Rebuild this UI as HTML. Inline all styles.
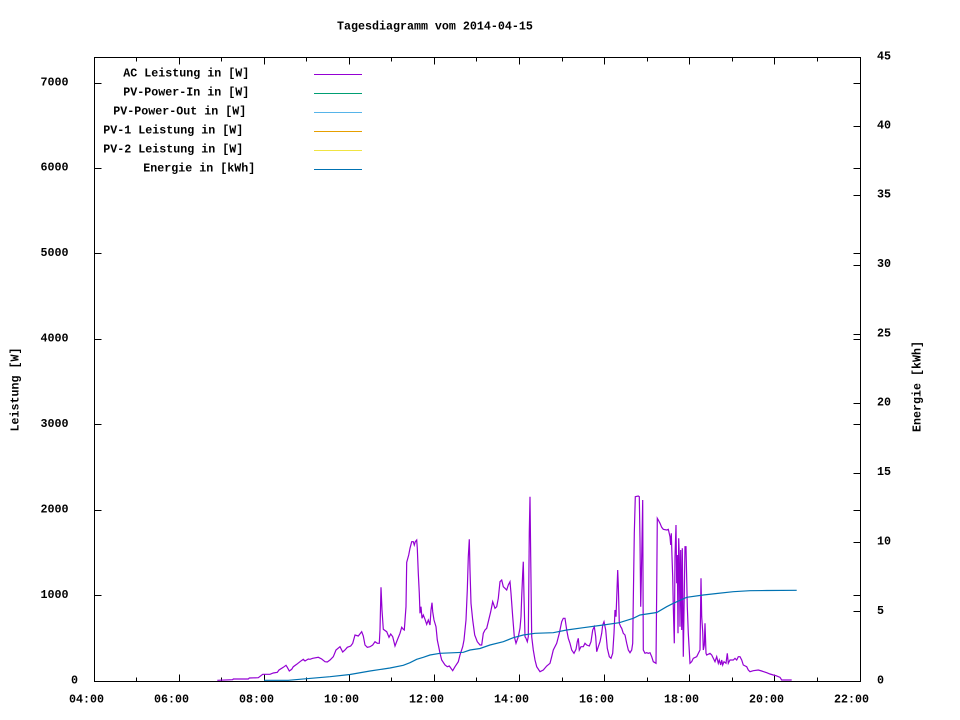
<!DOCTYPE html>
<html>
<head>
<meta charset="utf-8">
<style>
  html, body { margin:0; padding:0; background:#fff; }
  svg { display:block; }
  text { font-family: "Liberation Mono", "DejaVu Sans Mono", monospace; font-weight: bold; font-size: 11.67px; fill:#000; }
</style>
</head>
<body>
<svg width="960" height="720" viewBox="0 0 960 720" xmlns="http://www.w3.org/2000/svg">
  <rect x="0" y="0" width="960" height="720" fill="#fff"/>

  <!-- Title -->
  <text x="337" y="29.5">Tagesdiagramm vom 2014-04-15</text>

  <!-- Ticks -->
  <g stroke="#000" stroke-width="1" shape-rendering="crispEdges" fill="none">
    <!-- left y ticks + mirrored on right -->
    <path d="M94.5 681.5h7 M94.5 595.5h7 M94.5 510.5h7 M94.5 424.5h7 M94.5 339.5h7 M94.5 253.5h7 M94.5 168.5h7 M94.5 83.5h7"/>
    <path d="M860.5 595.5h-7 M860.5 510.5h-7 M860.5 424.5h-7 M860.5 339.5h-7 M860.5 253.5h-7 M860.5 168.5h-7 M860.5 83.5h-7"/>
    <!-- y2 ticks -->
    <path d="M860.5 611.5h-7 M860.5 542.5h-7 M860.5 473.5h-7 M860.5 403.5h-7 M860.5 334.5h-7 M860.5 265.5h-7 M860.5 195.5h-7 M860.5 126.5h-7"/>
    <!-- x major ticks bottom/top -->
    <path d="M179.5 681.5v-7 M264.5 681.5v-7 M349.5 681.5v-7 M434.5 681.5v-7 M519.5 681.5v-7 M604.5 681.5v-7 M689.5 681.5v-7 M774.5 681.5v-7"/>
    <path d="M179.5 57.5v7 M264.5 57.5v7 M349.5 57.5v7 M434.5 57.5v7 M519.5 57.5v7 M604.5 57.5v7 M689.5 57.5v7 M774.5 57.5v7"/>
    <!-- x minor ticks -->
    <path d="M136.5 681.5v-4 M221.5 681.5v-4 M306.5 681.5v-4 M391.5 681.5v-4 M476.5 681.5v-4 M562.5 681.5v-4 M647.5 681.5v-4 M732.5 681.5v-4 M817.5 681.5v-4"/>
    <path d="M136.5 57.5v4 M221.5 57.5v4 M306.5 57.5v4 M391.5 57.5v4 M476.5 57.5v4 M562.5 57.5v4 M647.5 57.5v4 M732.5 57.5v4 M817.5 57.5v4"/>
    <!-- border -->
    <rect x="94.5" y="57.5" width="766" height="624"/>
  </g>

  <!-- Left tick labels -->
  <text x="71" y="683.5">0</text>
  <text x="40.5" y="598">1000</text>
  <text x="40.5" y="512.5">2000</text>
  <text x="40.5" y="427">3000</text>
  <text x="40.5" y="341.5">4000</text>
  <text x="40.5" y="256">5000</text>
  <text x="40.5" y="170.5">6000</text>
  <text x="40.5" y="85.5">7000</text>

  <!-- Right tick labels -->
  <text x="877" y="683.5">0</text>
  <text x="877" y="614">5</text>
  <text x="877" y="544.5">10</text>
  <text x="877" y="475">15</text>
  <text x="877" y="405.5">20</text>
  <text x="877" y="336.5">25</text>
  <text x="877" y="267">30</text>
  <text x="877" y="197.5">35</text>
  <text x="877" y="128.5">40</text>
  <text x="877" y="59.5">45</text>

  <!-- X tick labels -->
  <text x="69" y="702.5">04:00</text>
  <text x="154" y="702.5">06:00</text>
  <text x="239" y="702.5">08:00</text>
  <text x="324" y="702.5">10:00</text>
  <text x="409" y="702.5">12:00</text>
  <text x="494" y="702.5">14:00</text>
  <text x="579" y="702.5">16:00</text>
  <text x="664" y="702.5">18:00</text>
  <text x="749" y="702.5">20:00</text>
  <text x="834" y="702.5">22:00</text>

  <!-- Axis labels -->
  <text transform="translate(18.5,431.5) rotate(-90)">Leistung [W]</text>
  <text transform="translate(920.5,432) rotate(-90)">Energie [kWh]</text>

  <!-- Legend -->
  <text x="123.3" y="76.5">AC Leistung in [W]</text>
  <text x="123.3" y="95.5">PV-Power-In in [W]</text>
  <text x="113.3" y="114.5">PV-Power-Out in [W]</text>
  <text x="103.3" y="133.5">PV-1 Leistung in [W]</text>
  <text x="103.3" y="152.5">PV-2 Leistung in [W]</text>
  <text x="143.3" y="171.5">Energie in [kWh]</text>
  <g stroke-width="1" shape-rendering="crispEdges">
    <line x1="314" y1="74.5" x2="362" y2="74.5" stroke="#9400d3"/>
    <line x1="314" y1="93.5" x2="362" y2="93.5" stroke="#009e73"/>
    <line x1="314" y1="112.5" x2="362" y2="112.5" stroke="#56b4e9"/>
    <line x1="314" y1="131.5" x2="362" y2="131.5" stroke="#e69f00"/>
    <line x1="314" y1="150.5" x2="362" y2="150.5" stroke="#f0e442"/>
    <line x1="314" y1="169.5" x2="362" y2="169.5" stroke="#0072b2"/>
  </g>

  <!-- AC Leistung -->
  <polyline fill="none" stroke="#9400d3" stroke-width="1.2" stroke-linejoin="miter" points="217.3,680.3 232.7,679.7 233.3,679 248.3,679 249.3,678 258.3,677.7 262.7,674.3 270,674.3 273.3,673 277.3,672.3 279,670 283.3,667.3 286,665.3 287.3,667.3 289.3,671 291.7,669.3 293.3,666.7 296.7,664.3 300,661.7 303.3,659.3 305,661 308.3,659 310,659.3 312.7,658.3 318.3,657.3 321.7,659 325,661.7 327.3,662 330,660 333.3,656.7 336,650 340,646.7 342.7,652 345,650 347.3,647.3 350.7,646 352.7,643.3 355,635 358.3,636 361.7,631.7 363.3,636 365,645 367.3,647.3 370,646.7 372.7,645 375,641.7 377.3,643.3 379.3,643.3 380,630 381,587.3 382,610 383.3,629.3 386.7,631.7 389,637.3 390.7,634 392.7,636.7 395,646 397.3,640 400,633.3 401.7,627.3 403.3,629.3 404.3,630 406,606.7 406.7,562.3 408.7,555 410,548.3 411.7,541.7 413.3,541.7 414.3,545 415.3,541.7 416.7,540 417.3,548.3 418.3,573.3 419.3,593.3 420,613.3 421,606.7 422,618.3 423.3,615 425,619.3 426.7,624.3 428.3,620 430,625 431,610 432,602.7 432.7,611.7 434,620 436,626.7 437.3,640 438.7,646.7 440,653.3 441.7,660 445,665 447.3,666.7 449.3,666 452.7,670.7 455,666.7 458.3,661.7 460,655 462.7,646.7 464,640 466,620 467.3,590 468.3,556.7 469.3,539.3 470,570 471,603.3 472.7,620 474.7,635 477.3,641.7 480,645 481.7,645 483.3,633.3 485,630 486.7,628.3 488.3,621.7 490.7,611.7 492.7,601.7 495,608.3 496.7,606.7 498.3,598.3 500,581.7 501.7,580 503.3,586.7 505,588.3 506.7,590 508.3,585 510,581.7 511,593.3 512.7,616.7 514.3,636.7 516,643.3 518.3,636.7 520,628.3 521,616.7 521.7,596.7 522.7,573.3 523.3,561.7 524,596.7 525,636.7 526,638.3 527.3,641.7 528.3,636.7 529.3,531.7 530,496.7 530.7,556.7 531.7,636.7 533.3,650 535,660 536.7,666.7 540,671.7 543.3,670 546.7,666 550,663.3 551.7,656.7 553.3,650 556.7,643.3 559.3,633.3 561.7,621.7 563.3,618.3 565,618.3 566.7,630 568.3,638.3 570,643.3 571.7,650 574,653.3 576,649.3 577.3,641.7 578.3,638.3 579.3,650 581,646.7 583.3,646.7 585,643.3 586.7,645 589.3,646 591,641.7 592.7,630 594.3,626.7 595.7,636.7 596.7,651.7 598.3,646.7 600,641.7 601.7,633.3 602.7,625 604,621.7 605.7,630 607.3,648.3 609.3,656.7 611,658.3 612.7,653.3 614,633.3 615,610 616,616.7 617,590 617.7,570 618.3,585 619.3,623.3 620.7,626.7 621.7,628.3 623.3,633.3 625,635 626.7,643.3 628.3,650 630,652.7 631.7,650 632.7,643.3 633.3,600 634.3,533.3 635.3,496.7 638.3,496 639.3,496.7 640,540 640.7,606.7 641.3,580 642,540 642.7,500 643.3,650 645,653.3 646.7,652.7 648.3,653.3 650,652.7 651.7,656.7 653.3,661.7 656,663.3 656.7,590 657.3,518.3 658.3,520 660,523.3 661.7,527.3 663.3,529.3 666.7,530 668.3,529.3 670,536.7 670.7,545 671.3,533.3 672,556.7 672.7,576.7 673.3,606.7 674.3,643.3 675,556.7 676,525 676.7,583.3 677.3,555 678,633.3 678.7,538.3 679.3,556.7 680,626.7 680.7,550 681.7,630 682.3,548.3 683.3,656.7 685,546.7 686,546.7 687.3,606.7 688.3,633.3 690,663.3 691.7,661.7 693.3,658.3 696.7,656.7 700,650 701,578.3 701.7,616.7 702.7,631.7 703.3,650 704.3,645 705,623.3 706,653.3 706.7,655 710,653.3 711.7,655 713.3,658.3 715,661.7 716.7,656.7 718.3,663.3 719.3,660 720.7,665 721.7,660 722.7,665 724,661.7 726,663.3 727.3,653.3 728.3,663.3 730,660 733.3,660 735,658.3 736.7,660 738.3,656.7 740,656.7 741.7,660 743.3,665 746.7,666.7 748.3,670 750,671.7 753.3,670.7 758.3,670 761.7,671 766.7,672.7 770,674 773.3,675 776,675.7 780,677.3 781.7,680 791.7,680"/>

  <!-- Energie -->
  <polyline fill="none" stroke="#0072b2" stroke-width="1.2" points="264,680.3 288.3,680.3 306.7,678.7 330,676.7 350,674.5 370,671 390,668 403.3,665.3 410,662.7 416.7,659.3 423.3,657.3 430,655 440,653.3 463.3,652.3 470,650 480,648.5 490,645 503.3,641.7 513.3,637.7 523.3,635 535,633.3 553.3,632.7 566.7,630 583.3,627.7 603.3,625 619.3,622.7 633.3,618.3 640,615 656.7,612.5 666.7,606.7 673.3,603.3 686.7,597.3 703.3,595 716.7,593.5 733.3,591.7 750,590.7 766.7,590.5 796.7,590.3"/>
</svg>
</body>
</html>
